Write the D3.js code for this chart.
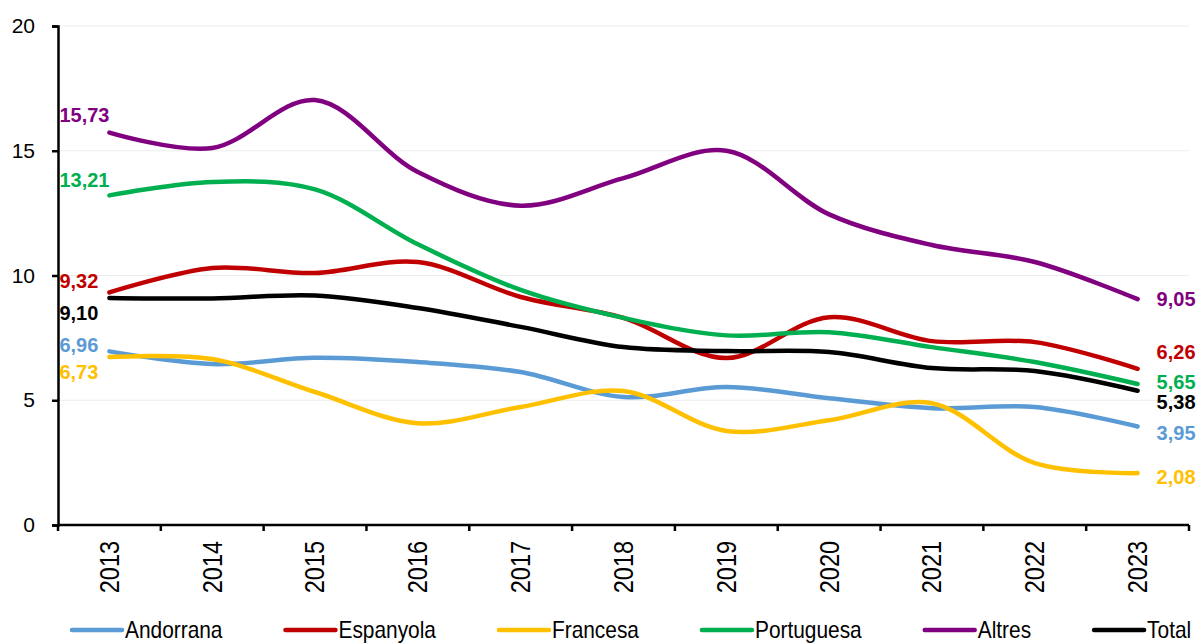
<!DOCTYPE html>
<html>
<head>
<meta charset="utf-8">
<script src="https://cdn.jsdelivr.net/npm/d3@7"></script>
<style>
    body { margin: 0; background: #fff; }
    svg { display: block; font-family: "Liberation Sans", Arial, sans-serif; }
    .grid line { stroke: #ececec; stroke-width: 1; }
    .axis path, .axis line { stroke: #000; stroke-width: 2.5; }
    .axis text { fill: #000; }
    .line { fill: none; stroke-width: 4.5; stroke-linecap: round; }
    .lbl { font-weight: bold; font-size: 20px; }
</style>
</head>
<body>
<div id="chart"></div>
<script>
var years = ["2013", "2014", "2015", "2016", "2017", "2018", "2019", "2020", "2021", "2022", "2023"];
var yTicks = [0, 5, 10, 15, 20];

var andorrana  = [6.96, 6.45, 6.70, 6.53, 6.13, 5.13, 5.53, 5.08, 4.68, 4.73, 3.95];
var espanyola  = [9.32, 10.30, 10.10, 10.54, 9.14, 8.30, 6.69, 8.33, 7.37, 7.33, 6.26];
var francesa   = [6.73, 6.65, 5.33, 4.08, 4.73, 5.37, 3.77, 4.20, 4.88, 2.48, 2.08];
var portuguesa = [13.21, 13.75, 13.45, 11.25, 9.42, 8.30, 7.60, 7.73, 7.13, 6.53, 5.65];
var altres     = [15.73, 15.11, 17.03, 14.15, 12.80, 13.90, 15.00, 12.45, 11.22, 10.54, 9.05];
var total      = [9.10, 9.08, 9.20, 8.70, 7.94, 7.13, 6.97, 6.93, 6.29, 6.17, 5.38];

var seriesNames = ["Andorrana", "Espanyola", "Francesa", "Portuguesa", "Altres", "Total"];
var seriesValues = [andorrana, espanyola, francesa, portuguesa, altres, total];
var colors = ["#5B9BD5", "#C00000", "#FFC000", "#00B050", "#800080", "#000000"];

// vertical nudges of the first / last value labels (px)
var firstLabelDy = [1, -4, 22, -8, -11, 22];
var lastLabelDy = [14, -10, 11, 5, 7, 18];

var margin = {left: 58, right: 14, top: 26, bottom: 119},
    W = 1204, H = 644,
    width = W - margin.left - margin.right,
    height = H - margin.top - margin.bottom;

var svg = d3.select("#chart").append("svg")
    .attr("width", W)
    .attr("height", H);

var chart = svg.append("g")
    .attr("transform", "translate(" + margin.left + "," + margin.top + ")");

var x = d3.scaleBand().domain(years).range([0, width - 1]);
var y = d3.scaleLinear().domain([0, 20]).range([height, 0]);

var data = seriesNames.map(function (n, i) {
    return {name: n, color: colors[i], values: seriesValues[i].map(function (v, j) {
        return {x: years[j], y: v};
    })};
});

// gridlines
chart.append("g")
    .attr("class", "grid")
    .selectAll("line")
    .data(yTicks.filter(function (d) { return d > 0; }))
    .enter().append("line")
    .attr("x1", 0)
    .attr("x2", x.range()[1])
    .attr("y1", function (d) { return y(d); })
    .attr("y2", function (d) { return y(d); });

// y axis
var yAxis = chart.append("g")
    .attr("class", "y axis")
    .call(d3.axisLeft(y).tickValues(yTicks).tickSize(6).tickPadding(17).tickSizeOuter(6));
yAxis.selectAll("text").style("font-size", "21px");

// x axis: ticks on band boundaries
var xAxis = chart.append("g")
    .attr("class", "x axis")
    .attr("transform", "translate(0," + height + ")");
xAxis.append("line")
    .attr("x1", 0)
    .attr("x2", x.range()[1]);
xAxis.selectAll(".tk")
    .data(d3.range(years.length + 1))
    .enter().append("line")
    .attr("class", "tk")
    .attr("x1", function (i) { return i * x.step(); })
    .attr("x2", function (i) { return i * x.step(); })
    .attr("y1", 0)
    .attr("y2", 6);
xAxis.selectAll(".yr")
    .data(years)
    .enter().append("text")
    .attr("class", "yr")
    .attr("transform", function (d) {
        return "translate(" + (x(d) + x.bandwidth() / 2) + ",16) rotate(-90) scale(0.87,1)";
    })
    .attr("dy", "0.35em")
    .style("text-anchor", "end")
    .style("font-size", "27px")
    .text(function (d) { return d; });

// lines
var line = d3.line()
    .curve(d3.curveCatmullRom.alpha(0.5))
    .x(function (d) { return x(d.x) + x.bandwidth() / 2; })
    .y(function (d) { return y(d.y); });

var series = chart.selectAll(".series")
    .data(data)
    .enter().append("g")
    .attr("class", "series");

series.append("path")
    .attr("class", "line")
    .attr("d", function (d) { return line(d.values); })
    .style("stroke", function (d) { return d.color; });

function fmt(v) {
    return v.toFixed(2).replace(".", ",");
}

// first and last value labels
series.append("text")
    .attr("class", "lbl")
    .attr("x", function (d) { return x(d.values[0].x) + x.bandwidth() / 2 - 50; })
    .attr("y", function (d, i) { return y(d.values[0].y) + firstLabelDy[i]; })
    .style("fill", function (d) { return d.color; })
    .text(function (d) { return fmt(d.values[0].y); });

series.append("text")
    .attr("class", "lbl")
    .attr("x", function (d) { return x(d.values[d.values.length - 1].x) + x.bandwidth() / 2 + 19; })
    .attr("y", function (d, i) { return y(d.values[d.values.length - 1].y) + lastLabelDy[i]; })
    .style("fill", function (d) { return d.color; })
    .text(function (d) { return fmt(d.values[d.values.length - 1].y); });

// legend
var legend = svg.append("g").attr("class", "legend");
var lx = 72, ly = 630;
data.forEach(function (d) {
    var item = legend.append("g")
        .attr("transform", "translate(" + lx + "," + ly + ")");
    item.append("line")
        .attr("x1", 0).attr("x2", 50)
        .attr("y1", 0).attr("y2", 0)
        .style("stroke", d.color)
        .style("stroke-width", 4.5)
        .style("stroke-linecap", "round");
    var t = item.append("text")
        .attr("transform", "translate(53,8) scale(0.87,1)")
        .style("font-size", "24px")
        .text(d.name);
    lx += 53 + t.node().getComputedTextLength() * 0.87 + 63;
});
</script>
</body>
</html>
